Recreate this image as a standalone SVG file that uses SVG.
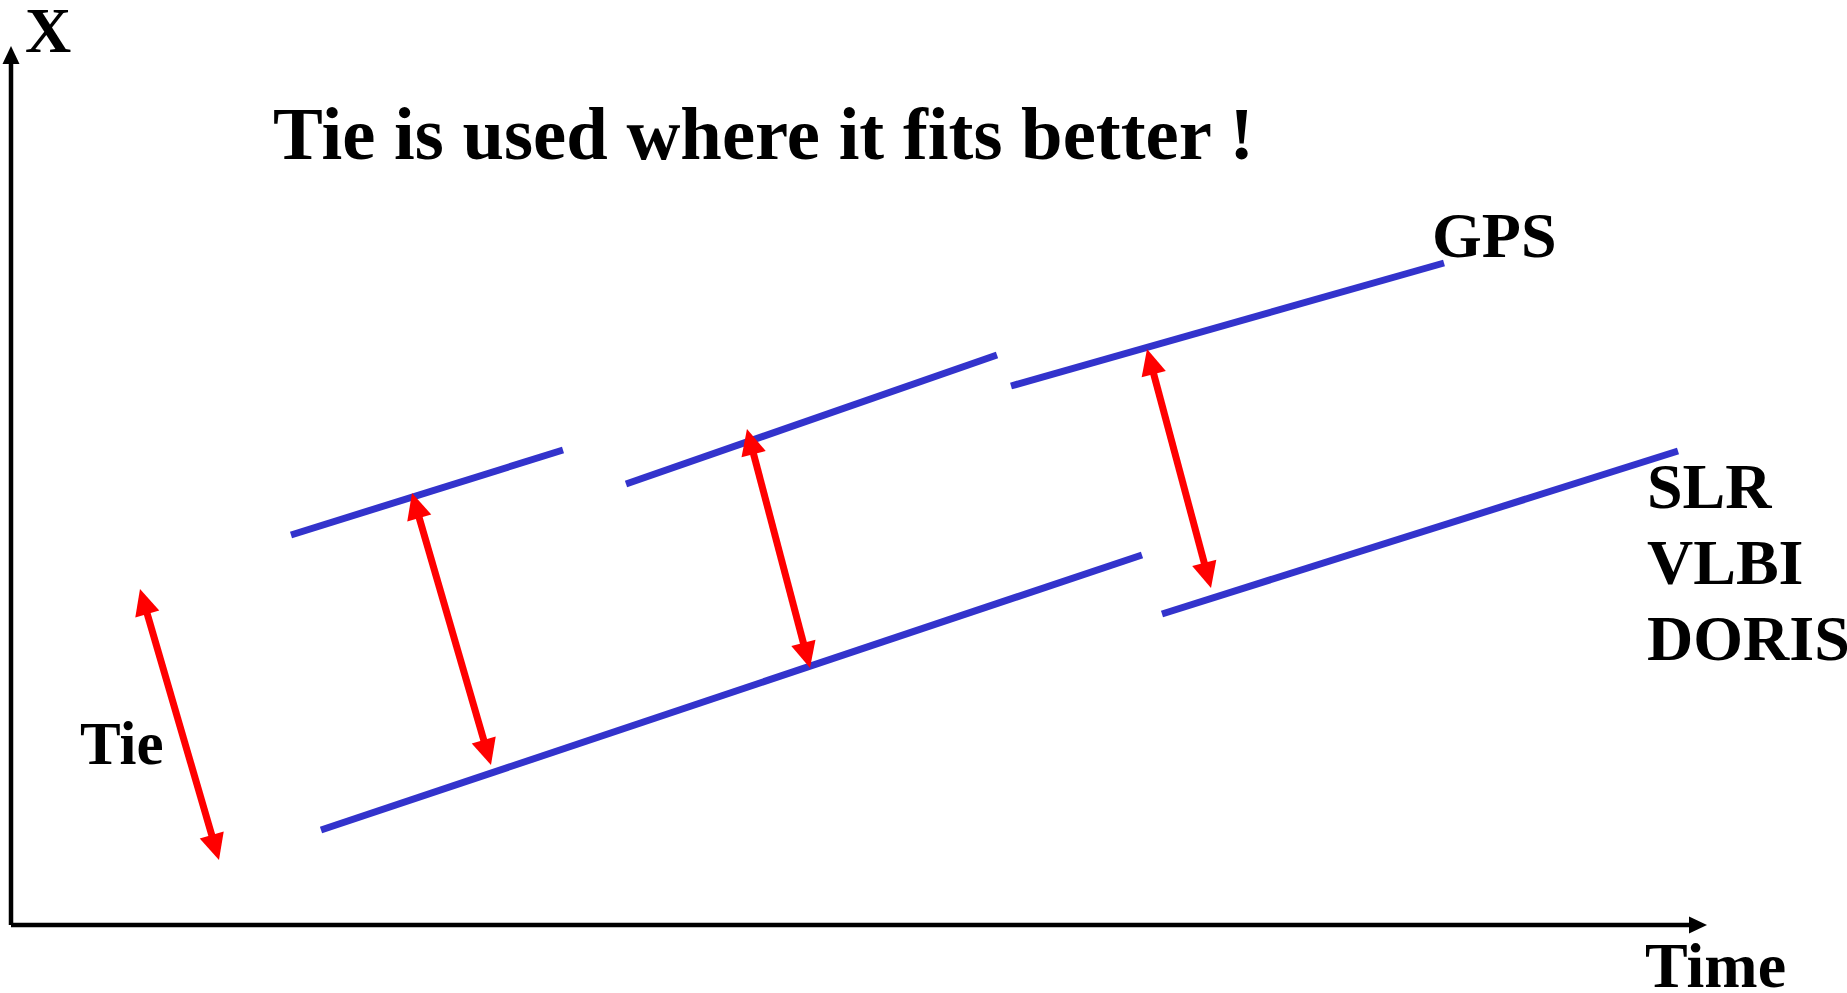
<svg xmlns="http://www.w3.org/2000/svg" width="1847" height="993" viewBox="0 0 1847 993">
<defs>
<style>
.lbl{font-family:"Liberation Serif","Times New Roman",serif;font-weight:bold;fill:#000}
.seg{stroke:#3333CC;stroke-width:7;fill:none}
.tie{stroke:#FF0000;stroke-width:7;fill:none;marker-start:url(#rh);marker-end:url(#rh)}
.axis{stroke:#000;stroke-width:4.5;fill:none}
</style>
<marker id="rh" markerUnits="userSpaceOnUse" viewBox="-13 -14 30 28" markerWidth="30" markerHeight="28" refX="0" refY="0" orient="auto-start-reverse">
<path d="M-11,-12.5 L15,0 L-11,12.5 z" fill="#FF0000"/>
</marker>
<marker id="ah" markerUnits="userSpaceOnUse" viewBox="-10 -10 22 20" markerWidth="22" markerHeight="20" refX="0" refY="0" orient="auto">
<path d="M-8,-8.5 L10,0 L-8,8.5 z" fill="#000"/>
</marker>
</defs>
<rect width="1847" height="993" fill="#fff"/>
<g id="axes">
<path class="axis" d="M11,925 L11,56" marker-end="url(#ah)"/>
<path class="axis" d="M11,925 L1697,925" marker-end="url(#ah)"/>
</g>
<g id="title"><text class="lbl" x="273" y="159" font-size="74" textLength="981" lengthAdjust="spacingAndGlyphs">Tie is used where it fits better !</text></g>
<g id="label-x"><text class="lbl" x="25" y="52" font-size="64">X</text></g>
<g id="label-time"><text class="lbl" x="1645" y="987" font-size="64">Time</text></g>
<g id="label-tie"><text class="lbl" x="80" y="764" font-size="61">Tie</text></g>
<g id="label-gps"><text class="lbl" x="1432" y="257" font-size="64">GPS</text></g>
<g id="label-others">
<text class="lbl" x="1647" y="508" font-size="64">SLR</text>
<text class="lbl" x="1647" y="584" font-size="64">VLBI</text>
<text class="lbl" x="1647" y="660" font-size="64">DORIS</text>
</g>
<g id="gps-series">
<line class="seg" x1="291" y1="535" x2="563" y2="450"/>
<line class="seg" x1="626" y1="484" x2="997" y2="355"/>
<line class="seg" x1="1011" y1="386" x2="1444" y2="263"/>
</g>
<g id="other-series">
<line class="seg" x1="321" y1="830" x2="1142" y2="555"/>
<line class="seg" x1="1162" y1="614" x2="1678" y2="451"/>
</g>
<g id="connectors">
<line class="tie" x1="144.2" y1="603.4" x2="214.8" y2="845.6"/>
<line class="tie" x1="416.2" y1="507.4" x2="486.8" y2="750.6"/>
<line class="tie" x1="750.8" y1="443.5" x2="806.2" y2="653.5"/>
<line class="tie" x1="1150.9" y1="363.5" x2="1207.1" y2="573.5"/>
</g>
</svg>
